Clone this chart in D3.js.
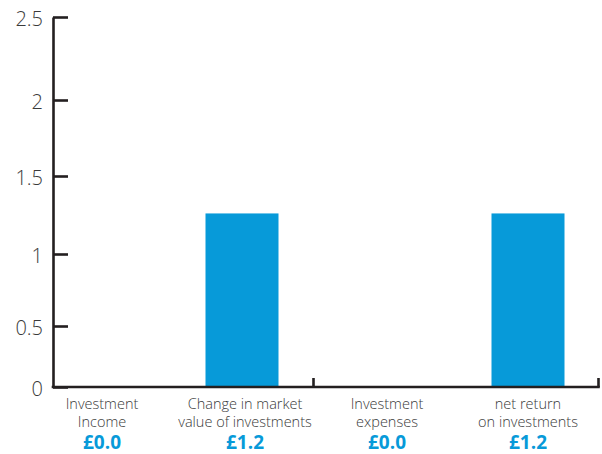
<!DOCTYPE html>
<html><head><meta charset="utf-8">
<script src="https://cdn.jsdelivr.net/npm/d3@7"></script>
<style>body{margin:0;background:#fff;} svg{display:block;}</style>
</head><body>
<svg id="c" width="602" height="454"></svg>
<script>
const categories = ["Investment Income", "Change in market value of investments", "Investment expenses", "net return on investments"];
const labelLines = [["Investment","Income"],["Change in market","value of investments"],["Investment","expenses"],["net return","on investments"]];
const values = [0, 1.26, 0, 1.26];
const valueLabels = ["£0.0", "£1.2", "£0.0", "£1.2"];
const yTicks = [0, 0.5, 1, 1.5, 2, 2.5];
const yTickLabels = ["0", "0.5", "1", "1.5", "2", "2.5"];

const svg = d3.select("#c");
const blue = "#079ad9";
const axisColor = "#231f20";
const font = "'Open Sans', Roboto, 'Liberation Sans', sans-serif";

const x = d3.scaleBand().domain(categories).range([27.5, 599.5]).padding(0);
const y = d3.scaleLinear().domain(yTicks).range([387, 326, 254, 176, 100, 17]);
const barW = 73;

// bars
svg.append("g").selectAll("rect").data(values).join("rect")
  .attr("x", (d, i) => x(categories[i]) + x.bandwidth() / 2 - barW / 2)
  .attr("width", barW)
  .attr("y", d => y(d))
  .attr("height", d => y(0) - y(d))
  .attr("fill", blue);

// y axis
const yAxis = d3.axisLeft(y).tickValues(yTicks)
  .tickFormat((d, i) => yTickLabels[i])
  .tickSizeInner(-15).tickSizeOuter(0).tickPadding(10);
const gy = svg.append("g").attr("transform", "translate(53,0)").call(yAxis);
gy.select(".domain").attr("stroke", axisColor).attr("stroke-width", 2.6);
gy.selectAll(".tick line").attr("stroke", axisColor).attr("stroke-width", 2.6);
gy.selectAll(".tick text").attr("font-family", font)
  .attr("font-weight", 300).attr("font-size", 20).attr("fill", "#3a3a3a")
  .attr("dy", "0.4em");

// x axis
const x0 = 53, x1 = x.range()[1] - 1;
const gx = svg.append("g");
gx.append("line").attr("x1", x0 - 1.3).attr("x2", x1 + 1.3).attr("y1", y(0)).attr("y2", y(0))
  .attr("stroke", axisColor).attr("stroke-width", 2.6);
const groupTicks = [x(categories[2]), x1];
gx.selectAll("line.t").data(groupTicks).join("line").attr("class", "t")
  .attr("x1", d => d).attr("x2", d => d).attr("y1", y(0)).attr("y2", y(0) - 9)
  .attr("stroke", axisColor).attr("stroke-width", 2.6);

// category labels
const lg = svg.append("g").attr("font-family", font).attr("text-anchor", "middle");
categories.forEach((c, i) => {
  const cx = x(c) + x.bandwidth() / 2 + (i === 0 ? 3 : i === 1 ? 3 : i === 2 ? 2 : 0);
  labelLines[i].forEach((t, j) => {
    lg.append("text").attr("x", cx).attr("y", 409 + j * 17.5)
      .attr("font-size", 14.5).attr("font-weight", 300).attr("fill", "#3a3a3a").text(t);
  });
  lg.append("text").attr("x", cx).attr("y", 449)
    .attr("font-size", 19).attr("font-weight", 700).attr("fill", blue).text(valueLabels[i]);
});
</script>
</body></html>
